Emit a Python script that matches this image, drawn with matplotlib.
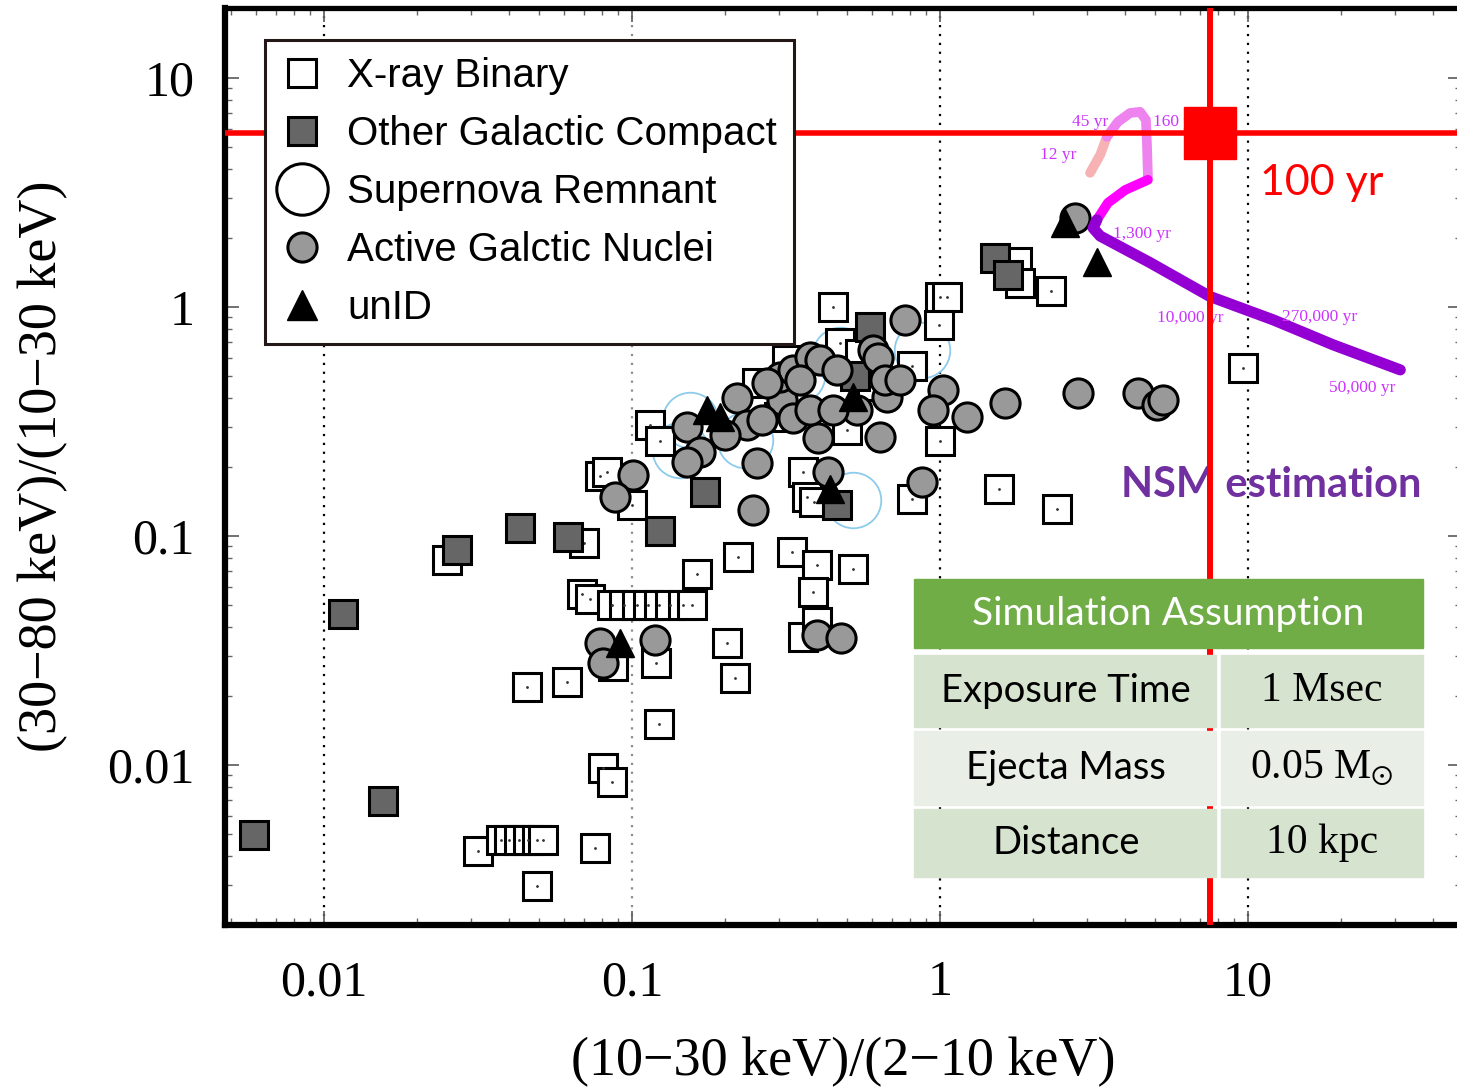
import numpy as np
import matplotlib.pyplot as plt
from matplotlib.lines import Line2D
from matplotlib.patches import Rectangle

plt.rcParams['mathtext.fontset'] = 'stix'

# ---- data ----
xrb_x = [0.45, 1.0, 1.05, 0.99, 0.81, 2.3, 1.78, 1.82, 9.6, 1.0, 1.55, 2.4, 0.81,
         0.114, 0.123, 0.079, 0.083, 0.10, 0.025, 0.070, 0.36, 0.37, 0.39, 0.221,
         0.33, 0.40, 0.52, 0.388, 0.163, 0.069, 0.073,
         0.086, 0.094, 0.104, 0.113, 0.122, 0.133, 0.146, 0.156,
         0.12, 0.087, 0.203, 0.216, 0.0456, 0.0615, 0.359, 0.40, 0.122, 0.0805,
         0.0863, 0.0316, 0.0375, 0.040, 0.043, 0.046, 0.049, 0.0515, 0.0759, 0.0492,
         0.255, 0.318, 0.474, 0.55, 0.60, 0.42, 0.30, 0.50]
xrb_y = [1.0, 1.1, 1.1, 0.83, 0.55, 1.17, 1.57, 1.27, 0.54, 0.26, 0.16, 0.131, 0.145,
         0.305, 0.26, 0.183, 0.19, 0.137, 0.0785, 0.093, 0.19, 0.148, 0.14, 0.081,
         0.085, 0.075, 0.072, 0.057, 0.068, 0.056, 0.053,
         0.05, 0.05, 0.05, 0.05, 0.05, 0.05, 0.05, 0.05,
         0.028, 0.027, 0.034, 0.024, 0.0219, 0.023, 0.0362, 0.042, 0.0151, 0.0097,
         0.0084, 0.0042, 0.0047, 0.0047, 0.0047, 0.0047, 0.0047, 0.0047, 0.00434, 0.00296,
         0.466, 0.587, 0.696, 0.62, 0.45, 0.30, 0.33, 0.29]

gc_x = [0.00593, 0.0155, 0.01153, 0.027, 0.0433, 0.062, 0.123, 0.173, 0.463, 0.593,
        1.51, 1.66, 0.53]
gc_y = [0.00494, 0.00697, 0.0456, 0.087, 0.108, 0.099, 0.105, 0.155, 0.137, 0.82,
        1.64, 1.38, 0.50]

snr_x = [0.522, 0.874, 0.473, 0.343, 0.233, 0.154, 0.143]
snr_y = [0.144, 0.649, 0.617, 0.505, 0.263, 0.321, 0.238]

agn_x = [0.769, 1.02, 0.949, 1.22, 0.433, 0.151, 0.166, 0.151, 0.219, 0.236, 0.20,
         0.255, 0.307, 0.302, 0.333, 0.333, 0.402, 0.378, 0.408, 0.463, 0.538, 0.606,
         0.629, 0.673, 0.663, 0.639, 0.742, 0.378, 0.45, 0.264, 0.351, 0.274,
         1.63, 2.81, 4.39, 5.07, 5.3, 2.74, 0.874, 0.247, 0.1007, 0.088,
         0.0788, 0.0805, 0.119, 0.40, 0.477]
agn_y = [0.877, 0.434, 0.355, 0.331, 0.19, 0.299, 0.233, 0.21, 0.401, 0.305, 0.276,
         0.208, 0.393, 0.494, 0.531, 0.328, 0.268, 0.605, 0.587, 0.531, 0.355, 0.649,
         0.599, 0.404, 0.48, 0.271, 0.48, 0.355, 0.355, 0.321, 0.48, 0.466,
         0.381, 0.421, 0.421, 0.373, 0.392, 2.45, 0.172, 0.130, 0.185, 0.148,
         0.034, 0.0279, 0.0351, 0.037, 0.0359]

unid_x = [2.55, 3.23, 0.175, 0.193, 0.522, 0.44, 0.0914]
unid_y = [2.33, 1.57, 0.355, 0.331, 0.404, 0.16, 0.034]

# NSM trajectory, split by age segment
seg1_x = [3.07, 3.31, 3.48]
seg1_y = [3.85, 4.61, 5.53]
seg2_x = [3.48, 3.78, 4.14, 4.46, 4.66, 4.70, 4.73]
seg2_y = [5.53, 6.43, 7.03, 7.11, 6.56, 5.0, 3.7]
seg3_x = [4.73, 3.99, 3.51, 3.23]
seg3_y = [3.59, 3.24, 2.85, 2.40]
seg4_x = [3.23, 3.14, 3.31, 4.81, 7.53, 12.1, 18.9, 31.2]
seg4_y = [2.40, 2.21, 2.04, 1.56, 1.11, 0.877, 0.683, 0.531]

age_labels = ['45 yr', '160 yr', '12 yr', '1,300 yr', '10,000 yr', '270,000 yr', '50,000 yr']
age_x = [3.07, 4.92, 2.42, 4.53, 6.48, 17.1, 23.4]
age_y = [6.43, 6.43, 4.61, 2.08, 0.895, 0.904, 0.443]

nsm_x, nsm_y = 7.53, 5.75

table_rows = [('Exposure Time', '1 Msec'),
              ('Ejecta Mass', r'0.05 M$_{\odot}$'),
              ('Distance', '10 kpc')]

xticks = [0.01, 0.1, 1, 10]
xtick_labels = ['0.01', '0.1', '1', '10']
yticks = [0.01, 0.1, 1, 10]
ytick_labels = ['0.01', '0.1', '1', '10']

# ---- figure ----
fig = plt.figure(figsize=(14.57, 10.88), dpi=100)
ax = fig.add_axes([225 / 1457, 1 - 925 / 1088, 1237 / 1457, 917 / 1088])
ax.set_xscale('log')
ax.set_yscale('log')
ax.set_xlim(0.00477, 49.5)
ax.set_ylim(0.0020, 20.2)

for xv in xticks:
    ax.axvline(xv, color='0.55' if xv == 0.1 else 'black', ls=(0, (1, 3)), lw=1.6, zorder=1)

ax.plot(snr_x, snr_y, 'o', ms=40, mfc='none', mec='#8ccbec', mew=1.3, zorder=2)
ax.plot(xrb_x, xrb_y, 's', ms=20, mfc='white', mec='black', mew=2.2, zorder=3)
ax.plot(xrb_x, xrb_y, '.', ms=2, color='#333333', zorder=3.1)
ax.plot(gc_x, gc_y, 's', ms=20, mfc='#666666', mec='black', mew=2.2, zorder=4)
ax.plot(agn_x, agn_y, 'o', ms=21, mfc='#999999', mec='black', mew=2.2, zorder=5)
ax.plot(unid_x, unid_y, '^', ms=20, color='black', zorder=6)

ax.plot(seg1_x, seg1_y, color='#f7b3b3', lw=7, solid_capstyle='round', zorder=7)
ax.plot(seg2_x, seg2_y, color='#ee82ee', lw=7, solid_capstyle='round', zorder=7)
ax.plot(seg3_x, seg3_y, color='#ff00ff', lw=7, solid_capstyle='round', zorder=7)
ax.plot(seg4_x, seg4_y, color='#9400d3', lw=8, solid_capstyle='round', zorder=7)
for lab, lx, ly in zip(age_labels, age_x, age_y):
    ax.text(lx, ly, lab, ha='left' if lab == '160 yr' else 'center', va='center',
            fontsize=12.5, color='#cc33ff', family='Liberation Serif', zorder=8)

ax.axhline(nsm_y, color='red', lw=4, zorder=9)
ax.axvline(nsm_x, color='red', lw=4.3, zorder=9)
ax.plot([nsm_x], [nsm_y], 's', ms=37, color='red', zorder=10)
ax.text(10.9, 3.48, '100 yr', color='red', fontsize=31, family='Lato',
        ha='left', va='center', zorder=10)
ax.text(11.9, 0.167, 'NSM estimation', color='#7030a0', fontsize=30, family='Lato',
        fontweight='bold', ha='center', va='center', zorder=8)

# axes styling
ax.set_xticks(xticks)
ax.set_xticklabels(xtick_labels)
ax.set_yticks(yticks)
ax.set_yticklabels(ytick_labels)
for lab in ax.get_xticklabels() + ax.get_yticklabels():
    lab.set_family('Liberation Serif')
    lab.set_fontsize(36)
ax.tick_params(which='both', direction='in', top=True, right=True, color='0.4')
ax.tick_params(which='major', length=10, width=1.3)
ax.tick_params(which='minor', length=5, width=1.0)
ax.tick_params(axis='x', pad=25)
ax.tick_params(axis='y', pad=22)
for side in ['left', 'bottom']:
    ax.spines[side].set_linewidth(4.5)
ax.spines['top'].set_linewidth(3.8)
ax.spines['right'].set_linewidth(3.8)

ax.set_xlabel('(10−30 keV)/(2−10 keV)', family='Liberation Serif', fontsize=39, labelpad=22)
ax.set_ylabel('(30−80 keV)/(10−30 keV)', family='Liberation Serif', fontsize=39, labelpad=28)

# legend
handles = [
    Line2D([], [], ls='none', marker='s', ms=20, mfc='white', mec='black', mew=2.2),
    Line2D([], [], ls='none', marker='s', ms=20, mfc='#666666', mec='black', mew=2.2),
    Line2D([], [], ls='none', marker='o', ms=37, mfc='white', mec='black', mew=2.2),
    Line2D([], [], ls='none', marker='o', ms=21, mfc='#999999', mec='black', mew=2.2),
    Line2D([], [], ls='none', marker='^', ms=22, color='black'),
]
labels = ['X-ray Binary', 'Other Galactic Compact', 'Supernova Remnant',
          'Active Galctic Nuclei', 'unID']
leg = ax.legend(handles, labels, loc='upper left', bbox_to_anchor=(40 / 1237, 1 - 32 / 917),
                prop={'family': 'Liberation Sans', 'size': 29}, frameon=True, fancybox=False,
                edgecolor='#231815', framealpha=1, borderpad=0.42, labelspacing=0.5,
                handlelength=1.0, handletextpad=0.62, borderaxespad=0)
leg.get_frame().set_linewidth(2.2)
leg.set_zorder(11)

# table
def fig_rect(x0, y0, x1, y1, color):
    fig.patches.append(Rectangle((x0 / 1457, 1 - y1 / 1088), (x1 - x0) / 1457, (y1 - y0) / 1088,
                                 transform=fig.transFigure, color=color, zorder=20))

fig_rect(914, 579, 1423, 648, '#70ad47')
fig.text(1168 / 1457, 1 - 614 / 1088, 'Simulation Assumption', color='white', fontsize=28,
         family='Lato', ha='center', va='center', zorder=21)
row_tops = [655, 731, 809]
row_bots = [727, 805, 877]
row_colors = ['#d6e3cf', '#e9efe6', '#d6e3cf']
for (name, val), top, bot, col in zip(table_rows, row_tops, row_bots, row_colors):
    fig_rect(914, top, 1216, bot, col)
    fig_rect(1221, top, 1423, bot, col)
    yc = 1 - (top + bot) / 2 / 1088
    fig.text(1066 / 1457, yc, name, fontsize=27.5, family='Lato', ha='center', va='center',
             zorder=21)
    fig.text(1322 / 1457, yc, val, fontsize=30, family='Liberation Serif', ha='center',
             va='center', zorder=21)

fig.savefig('out.png', dpi=100)
